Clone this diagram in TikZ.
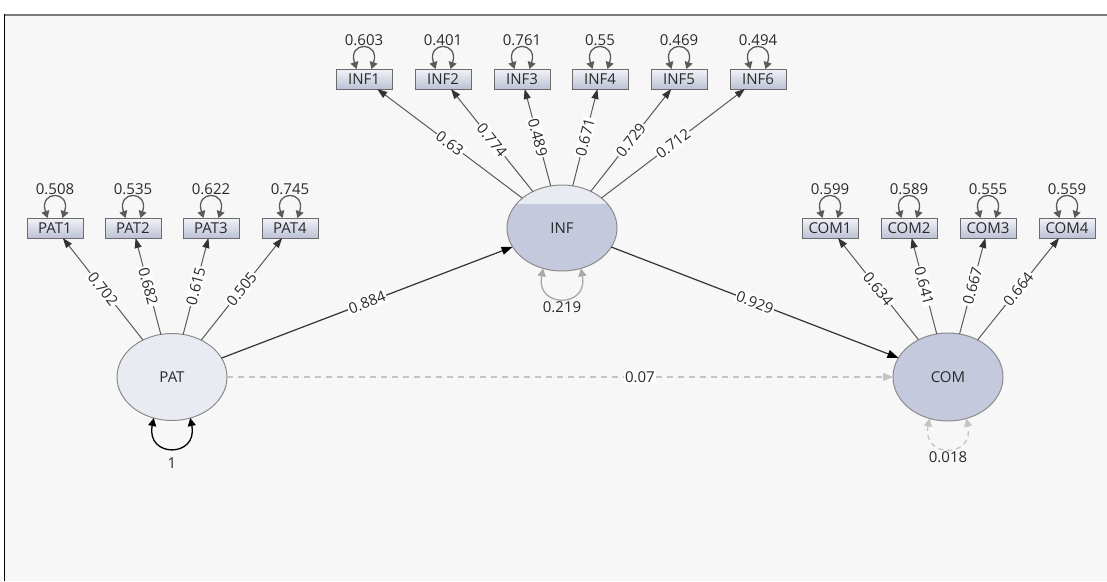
\documentclass[tikz,border=0pt]{standalone}
\usepackage{fontspec}
\setmainfont{Open Sans}
\usetikzlibrary{arrows.meta,shapes.geometric}
\definecolor{canvas}{HTML}{F7F7F7}
\definecolor{latLight}{HTML}{E9EBF3}
\definecolor{latBlue}{HTML}{C4C9DD}
\definecolor{latBorder}{HTML}{8A8A8A}
\definecolor{indTop}{HTML}{F2F3F8}
\definecolor{indBot}{HTML}{BCC2D6}
\definecolor{indBorder}{HTML}{6B6B6B}
\definecolor{loadLine}{HTML}{5A5A5A}
\definecolor{pathLine}{HTML}{333333}
\definecolor{txt}{HTML}{2A2A2A}
\definecolor{loopDark}{HTML}{5A5A5A}
\definecolor{loopMid}{HTML}{A8A8A8}
\definecolor{loopLight}{HTML}{C4C4C4}
\definecolor{frameTop}{HTML}{7A7A7A}
\begin{document}
\begin{tikzpicture}[x=1pt,y=-1pt,
  font=\fontsize{15}{17}\selectfont,
  ind/.style={rectangle, draw=indBorder, line width=0.9pt, minimum width=56pt, minimum height=20pt,
    inner sep=0pt, outer sep=0pt, top color=indTop, bottom color=indBot, text=txt},
  lat/.style={ellipse, draw=latBorder, line width=1pt, minimum width=110pt, minimum height=87pt,
    inner sep=0pt, outer sep=0pt, text=txt},
  load/.style={draw=loadLine, line width=1pt, -{Triangle[length=10pt,width=7pt,color=pathLine]}},
  spath/.style={draw=pathLine, line width=1.2pt, -{Triangle[length=11pt,width=8pt,color=black]}},
  dpath/.style={draw=loopLight, line width=1.2pt, dash pattern=on 6pt off 5pt, -{Triangle[length=10pt,width=8pt,color=loopLight]}},
  lbl/.style={fill=white, inner sep=1.2pt, text=txt, sloped},
  varloop/.style={draw=loopDark, line width=1.3pt, {Triangle[length=7pt,width=8pt]}-{Triangle[length=7pt,width=8pt]}},
  vlbl/.style={above=1pt, inner sep=1pt, text=txt},
]
\useasboundingbox (0,0) rectangle (1107,581);
\fill[white] (0,0) rectangle (1107,581);
\fill[canvas] (3.5,14) rectangle (1107,581);
\draw[frameTop, line width=2pt] (3.5,15) -- (1107,15);
\draw[black, line width=1pt] (4,14) -- (4,581);

% latent variables
\node[lat, fill=latLight] (PAT) at (172,377) {PAT};
\node[lat, fill=latBlue, minimum height=86pt,
  path picture={\fill[latLight] (path picture bounding box.north west) rectangle ([yshift=-19pt]path picture bounding box.north east);}] (INF) at (562,228) {INF};
\node[lat, fill=latBlue, minimum height=88pt] (COM) at (948,377) {COM};

% indicators
\foreach \n/\x in {PAT1/55, PAT2/133, PAT3/211, PAT4/290} {\node[ind] (\n) at (\x,228) {\n};}
\foreach \n/\x in {INF1/364, INF2/443, INF3/522, INF4/600, INF5/679, INF6/758} {\node[ind] (\n) at (\x,79) {\n};}
\foreach \n/\x in {COM1/830, COM2/909, COM3/988, COM4/1067} {\node[ind] (\n) at (\x,228) {\n};}

% loadings
\foreach \n/\v in {PAT1/0.702, PAT2/0.682, PAT3/0.615, PAT4/0.505} {\draw[load] (PAT) -- (\n) node[lbl, midway] {\v};}
\foreach \n/\v in {INF1/0.63, INF2/0.774, INF3/0.489, INF4/0.671, INF5/0.729, INF6/0.712} {\draw[load] (INF) -- (\n) node[lbl, midway] {\v};}
\foreach \n/\v in {COM1/0.634, COM2/0.641, COM3/0.667, COM4/0.664} {\draw[load] (COM) -- (\n) node[lbl, midway] {\v};}

% indicator error variances
\foreach \n/\v in {PAT1/0.508, PAT2/0.535, PAT3/0.622, PAT4/0.745, INF1/0.603, INF2/0.401, INF3/0.761, INF4/0.55, INF5/0.469, INF6/0.494, COM1/0.599, COM2/0.589, COM3/0.555, COM4/0.559} {
  \draw[varloop] ([xshift=-7.5pt]\n.north) .. controls +(-9,-28) and +(9,-28) .. ([xshift=7.5pt]\n.north) node[vlbl, midway] {\v};
}

% structural paths
\draw[spath] (PAT) -- (INF) node[lbl, midway] {0.884};
\draw[spath] (INF) -- (COM) node[lbl, midway] {0.929};
\draw[dpath] (PAT) -- (COM) node[fill=white, inner sep=1.2pt, text=txt, pos=0.62] {0.07};

% latent variances
\draw[draw=black, line width=1.3pt, {Triangle[length=8pt,width=8pt]}-{Triangle[length=8pt,width=8pt]}]
  (PAT.-114) .. controls +(-8,40) and +(8,40) .. (PAT.-66) node[midway, below=8pt, inner sep=1pt, text=txt] {1};
\draw[draw=loopMid, line width=1.3pt, {Triangle[length=8pt,width=8pt]}-{Triangle[length=8pt,width=8pt]}]
  (INF.-115) .. controls +(-8,40) and +(8,40) .. (INF.-65) node[midway, below=2pt, inner sep=1pt, text=txt] {0.219};
\draw[draw=loopLight, line width=1.3pt, dash pattern=on 5pt off 4pt, {Triangle[length=8pt,width=8pt]}-{Triangle[length=8pt,width=8pt]}]
  (COM.-114) .. controls +(-8,40) and +(8,40) .. (COM.-66) node[midway, below=2pt, inner sep=1pt, text=txt] {0.018};
\end{tikzpicture}
\end{document}
